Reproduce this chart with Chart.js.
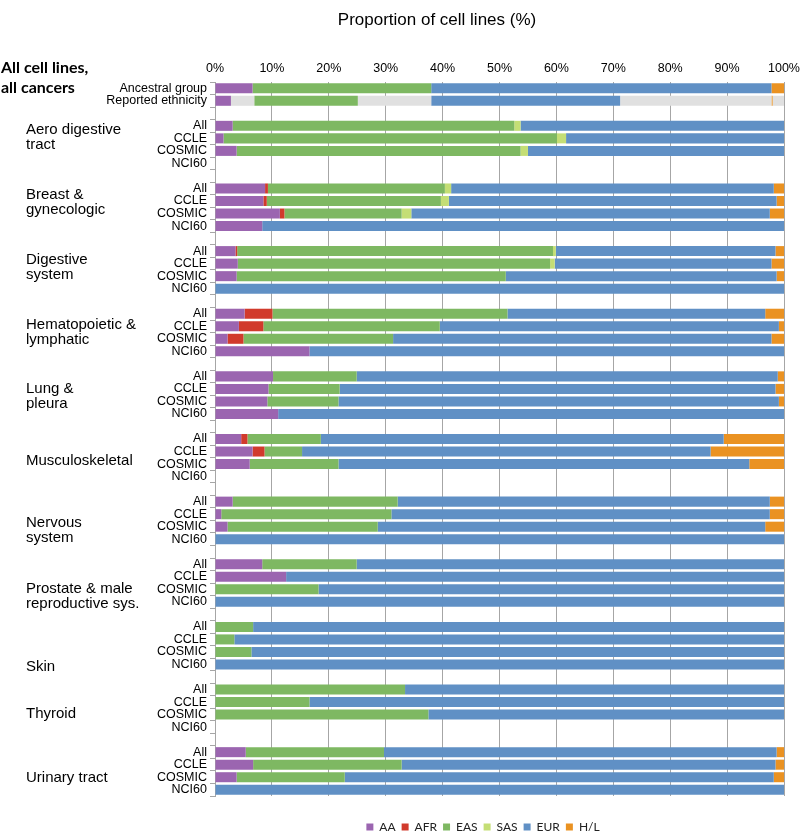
<!DOCTYPE html>
<html>
<head>
<meta charset="utf-8">
<script src="https://cdn.jsdelivr.net/npm/chart.js@4.4.1/dist/chart.umd.min.js"></script>
<style>
  html, body { margin: 0; padding: 0; background: #fff; }
  #wrap { width: 800px; height: 833px; position: relative; }
</style>
</head>
<body>
<div id="wrap"><canvas id="chart"></canvas></div>
<script>
// ===== row labels (blank rows separate the cancer groups) =====
const rowLabels = [
  'Ancestral group', 'Reported ethnicity', '',
  'All', 'CCLE', 'COSMIC', 'NCI60', '',   // Aero digestive
  'All', 'CCLE', 'COSMIC', 'NCI60', '',   // Breast
  'All', 'CCLE', 'COSMIC', 'NCI60', '',   // Digestive
  'All', 'CCLE', 'COSMIC', 'NCI60', '',   // Hematopoietic
  'All', 'CCLE', 'COSMIC', 'NCI60', '',   // Lung
  'All', 'CCLE', 'COSMIC', 'NCI60', '',   // Musculoskeletal
  'All', 'CCLE', 'COSMIC', 'NCI60', '',   // Nervous
  'All', 'CCLE', 'COSMIC', 'NCI60', '',   // Prostate
  'All', 'CCLE', 'COSMIC', 'NCI60', '',   // Skin
  'All', 'CCLE', 'COSMIC', 'NCI60', '',   // Thyroid
  'All', 'CCLE', 'COSMIC', 'NCI60'        // Urinary
];

// ===== % of cell lines per ancestry, same row order as rowLabels =====
const AA = [6.6, 2.8, null,
  3.1, 1.5, 3.8, null, null,
  8.8, 8.5, 11.4, 8.3, null,
  3.6, 4.0, 3.8, 0, null,
  5.2, 4.2, 2.2, 16.6, null,
  10.2, 9.4, 9.2, 11.1, null,
  4.6, 6.6, 6.1, null, null,
  3.1, 1.1, 2.2, 0, null,
  8.3, 12.5, 0, 0, null,
  0, 0, 0, 0, null,
  0, 0, 0, null, null,
  5.4, 6.7, 3.8, 0];
const AFR = [0, 0, null,
  0, 0, 0, null, null,
  0.5, 0.6, 0.8, 0, null,
  0.3, 0, 0, 0, null,
  4.9, 4.3, 2.8, 0, null,
  0, 0, 0, 0, null,
  1.1, 2.1, 0, null, null,
  0, 0, 0, 0, null,
  0, 0, 0, 0, null,
  0, 0, 0, 0, null,
  0, 0, 0, null, null,
  0, 0, 0, 0];
const EAS = [31.4, 18.2, null,
  49.5, 58.6, 49.9, null, null,
  31.1, 30.6, 20.6, 0, null,
  55.5, 54.9, 47.3, 0, null,
  41.3, 31.0, 26.3, 0, null,
  14.7, 12.5, 12.5, 0, null,
  12.9, 6.6, 15.6, null, null,
  29.0, 29.9, 26.4, 0, null,
  16.6, 0, 18.2, 0, null,
  6.7, 3.4, 6.4, 0, null,
  33.4, 16.6, 37.5, null, null,
  24.3, 26.1, 19.0, 0];
const SAS = [0, 0, null,
  1.1, 1.6, 1.3, null, null,
  1.1, 1.4, 1.7, 0, null,
  0.5, 0.8, 0, 0, null,
  0, 0, 0, 0, null,
  0, 0, 0, 0, null,
  0, 0, 0, null, null,
  0, 0, 0, 0, null,
  0, 0, 0, 0, null,
  0, 0, 0, 0, null,
  0, 0, 0, null, null,
  0, 0, 0, 0];
const EUR = [59.8, 33.2, null,
  46.3, 38.3, 45.0, null, null,
  56.7, 57.6, 63.0, 91.7, null,
  38.6, 38.1, 47.6, 100, null,
  45.3, 59.6, 66.5, 83.4, null,
  74.0, 76.6, 77.4, 88.9, null,
  70.8, 71.8, 72.2, null, null,
  65.4, 66.5, 68.1, 100, null,
  75.1, 87.5, 81.8, 100, null,
  93.3, 96.6, 93.6, 100, null,
  66.6, 83.4, 62.5, null, null,
  69.0, 65.7, 75.4, 100];
const HL = [2.2, 0.2, null,
  0, 0, 0, null, null,
  1.8, 1.3, 2.5, 0, null,
  1.5, 2.2, 1.3, 0, null,
  3.3, 0.9, 2.2, 0, null,
  1.1, 1.5, 0.9, 0, null,
  10.6, 12.9, 6.1, null, null,
  2.5, 2.5, 3.3, 0, null,
  0, 0, 0, 0, null,
  0, 0, 0, 0, null,
  0, 0, 0, null, null,
  1.3, 1.5, 1.8, 0];

// unreported parts of the "Reported ethnicity" row (grey)
const naAfterAA  = [0, 4.1];
const naAfterEAS = [0, 12.9];
const naAfterEUR = [0, 26.6];
const naAfterHL  = [0, 2.0];

const xTicks = [0, 10, 20, 30, 40, 50, 60, 70, 80, 90, 100];

// group labels on the left: lines + row position
const groupLabels = [
  [['Aero digestive', 'tract'], 3.35],
  [['Breast &', 'gynecologic'], 8.53],
  [['Digestive', 'system'], 13.72],
  [['Hematopoietic &', 'lymphatic'], 18.9],
  [['Lung &', 'pleura'], 24.0],
  [['Musculoskeletal'], 29.74],
  [['Nervous', 'system'], 34.69],
  [['Prostate & male', 'reproductive sys.'], 39.95],
  [['Skin'], 46.17],
  [['Thyroid'], 49.92],
  [['Urinary tract'], 55.02]
];

const GREY = '#e0e0e0';
const NA = '_na';

function ds(label, data, color) {
  return { label, data, backgroundColor: color, borderWidth: 0,
           barPercentage: 0.8, categoryPercentage: 1.0 };
}

const sideText = {
  id: 'sideText',
  afterLayout(chart) {
    // legend sits a bit lower and right of the canvas centre
    const lg = chart.legend;
    lg.left += 91; lg.right += 91;
    lg.top += 19; lg.bottom += 19;
  },
  afterDraw(chart) {
    const { ctx } = chart;
    const y = chart.scales.y;
    ctx.save();
    ctx.fillStyle = '#000';
    ctx.textBaseline = 'middle';
    ctx.textAlign = 'center';
    ctx.font = '17px "Liberation Sans", Arial, sans-serif';
    ctx.fillText('Proportion of cell lines (%)', 437, 20);

    ctx.textAlign = 'left';
    ctx.font = 'bold 16px Lato, "Open Sans", sans-serif';
    const y0 = y.getPixelForValue(0);
    ctx.fillText('All cell lines,', 1, y0 - 20);
    ctx.fillText('all cancers', 1, y0);

    ctx.font = '15px "Liberation Sans", Arial, sans-serif';
    for (const [lines, row] of groupLabels) {
      const py = y.getPixelForValue(row);
      lines.forEach((t, i) => ctx.fillText(t, 26, py + i * 15));
    }
    ctx.restore();
  }
};

new Chart(document.getElementById('chart'), {
  type: 'bar',
  data: {
    labels: rowLabels,
    datasets: [
      ds('AA', AA, '#9b65b0'),
      ds('AFR', AFR, '#d13a2c'),
      ds(NA, naAfterAA, GREY),
      ds('EAS', EAS, '#7eb862'),
      ds('SAS', SAS, '#c4de75'),
      ds(NA, naAfterEAS, GREY),
      ds('EUR', EUR, '#6090c5'),
      ds(NA, naAfterEUR, GREY),
      ds('H/L', HL, '#ea9222'),
      ds(NA, naAfterHL, GREY)
    ]
  },
  options: {
    indexAxis: 'y',
    responsive: true,
    maintainAspectRatio: false,
    animation: false,
    layout: { padding: { left: 0, right: 16, top: 0, bottom: 9 } },
    plugins: {
      tooltip: { enabled: false },
      title: { display: false },
      legend: {
        position: 'bottom',
        labels: {
          boxWidth: 7,
          boxHeight: 7,
          padding: 6,
          color: '#222',
          font: { family: 'Lato, "Open Sans", sans-serif', size: 12 },
          filter: item => item.text !== NA
        }
      }
    },
    scales: {
      x: {
        position: 'top',
        stacked: true,
        min: 0,
        max: 100,
        afterBuildTicks: s => { s.ticks = xTicks.map(v => ({ value: v })); },
        afterFit: s => { s.height = 82; s.paddingLeft = 0; s.paddingRight = 0; },
        ticks: {
          padding: 6,
          color: '#000',
          font: { family: '"Liberation Sans", Arial, sans-serif', size: 12.5 },
          callback: v => v + '%'
        },
        grid: { color: '#a6a6a6', lineWidth: 1, drawTicks: false },
        border: { display: false }
      },
      y: {
        stacked: true,
        afterFit: s => { s.width = 215; },
        ticks: {
          autoSkip: false,
          padding: 3,
          color: '#000',
          font: { family: '"Liberation Sans", Arial, sans-serif', size: 12.5 }
        },
        grid: {
          drawOnChartArea: false,
          drawTicks: true,
          tickLength: 5,
          color: '#a6a6a6',
          offset: true
        },
        border: { display: true, color: '#a6a6a6', width: 1 }
      }
    }
  },
  plugins: [sideText]
});
</script>
</body>
</html>
